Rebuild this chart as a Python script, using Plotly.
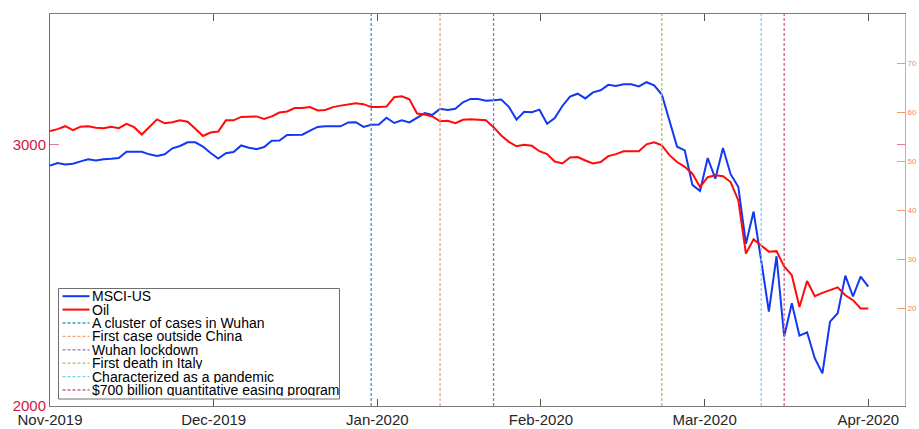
import plotly.graph_objects as go

# ---- data ----
month_labels = ["Nov-2019", "Dec-2019", "Jan-2020", "Feb-2020", "Mar-2020", "Apr-2020"]

msci_us = [2920, 2930, 2924, 2927, 2936, 2944, 2939, 2944, 2946, 2949,
           2973, 2973, 2973, 2963, 2957, 2963, 2986, 2995, 3009, 3009,
           2993, 2968, 2947, 2967, 2972, 2997, 2988, 2983, 2991, 3015,
           3016, 3037, 3038, 3038, 3054, 3068, 3070, 3070, 3070, 3085,
           3086, 3068, 3076, 3077, 3103, 3083, 3093, 3085, 3102, 3121,
           3114, 3137, 3133, 3137, 3162, 3175, 3175, 3168, 3170, 3173,
           3145, 3096, 3126, 3124, 3134, 3080, 3102, 3148, 3184, 3195,
           3177, 3200, 3208, 3229, 3225, 3231, 3231, 3223, 3239, 3227,
           3192, 3087, 2992, 2978, 2846, 2823, 2949, 2870, 2987, 2887,
           2839, 2621, 2744, 2556, 2361, 2573, 2266, 2393, 2269, 2282,
           2183, 2125, 2323, 2355, 2499, 2419, 2495, 2457]

oil = [56.1, 56.5, 57.1, 56.3, 57.0, 57.1, 56.8, 56.7, 57.0, 56.7,
       57.6, 56.9, 55.4, 56.9, 58.5, 57.7, 57.9, 58.3, 58.0, 56.6,
       55.1, 55.8, 56.0, 58.3, 58.3, 59.0, 59.0, 59.1, 58.6, 59.1,
       59.9, 60.1, 60.8, 60.8, 61.0, 60.3, 60.4, 61.0, 61.3, 61.6,
       61.8, 61.6, 61.0, 61.0, 61.1, 63.0, 63.2, 62.6, 59.7, 59.5,
       59.1, 58.1, 58.2, 57.7, 58.4, 58.5, 58.4, 58.3, 56.9, 55.2,
       53.9, 53.0, 53.3, 53.1, 52.0, 51.4, 49.9, 49.5, 50.7, 50.8,
       50.1, 49.5, 49.8, 51.0, 51.4, 52.0, 52.0, 52.0, 53.4, 53.8,
       53.2, 51.2, 49.8, 48.8, 47.4, 44.7, 46.7, 47.1, 46.9, 45.7,
       42.0, 31.1, 34.0, 32.8, 31.5, 31.6, 28.5, 26.7, 20.2, 25.5,
       22.4, 23.1, 23.6, 24.2, 22.6, 21.6, 19.9, 19.9]

event_labels = ["A cluster of cases in Wuhan", "First case outside China", "Wuhan lockdown",
                "First death in Italy", "Characterized as a pandemic",
                "$700 billion quantitative easing program"]
event_x = [42, 51, 58, 80, 93, 96]
event_colors = ["#3A9CC8", "#F5A07A", "#A070AE", "#A3C46E", "#72D3EF", "#CC607C"]

left_ticks = [2000, 3000]
right_ticks = [20, 30, 40, 50, 60, 70]

series_names = ["MSCI-US", "Oil"]
series_colors = ["#1238F2", "#FF0A0A"]

# ---- figure ----
N = len(msci_us)
idx = list(range(N))
tick_pos = [k * (N - 1) / 5 for k in range(6)]

FONT = "Liberation Sans, Arial, Helvetica, sans-serif"
LEFT_C = "#D0173F"
RIGHT_C = "#F5875A"

fig = go.Figure()
fig.add_trace(go.Scatter(x=idx, y=msci_us, mode="lines", name=series_names[0],
                         line=dict(color=series_colors[0], width=2), yaxis="y"))
fig.add_trace(go.Scatter(x=idx, y=oil, mode="lines", name=series_names[1],
                         line=dict(color=series_colors[1], width=2), yaxis="y2"))
# invisible trace to anchor mirrored left ticks on the right side
fig.add_trace(go.Scatter(x=[None], y=[None], yaxis="y3", showlegend=False, hoverinfo="skip"))

shapes = []
for ex, ec in zip(event_x, event_colors):
    shapes.append(dict(type="line", xref="x", yref="paper", x0=ex, x1=ex, y0=0, y1=1,
                       line=dict(color=ec, width=1.3, dash="3px,2px"), layer="above"))

# custom compact legend (pixel geometry -> paper coords)
PL, PR, PT, PB = 50, 905, 14, 406
def fx(px):
    return (px - PL) / (PR - PL)
def fy(py):
    return (PB - py) / (PB - PT)

shapes.append(dict(type="rect", xref="paper", yref="paper",
                   x0=fx(58.5), x1=fx(339.5), y0=fy(399), y1=fy(288.5),
                   line=dict(color="#6E6E6E", width=1), fillcolor="white", layer="above"))

annotations = []
leg_names = series_names + event_labels
leg_colors = series_colors + event_colors
for k, (nm, col) in enumerate(zip(leg_names, leg_colors)):
    yc = 296.2 + 13.4 * k
    dash = "solid" if k < 2 else "3px,2px"
    width = 2 if k < 2 else 1.3
    shapes.append(dict(type="line", xref="paper", yref="paper",
                       x0=fx(62.5), x1=fx(89.5), y0=fy(yc), y1=fy(yc),
                       line=dict(color=col, width=width, dash=dash), layer="above"))
    annotations.append(dict(xref="paper", yref="paper", x=fx(90.5), y=fy(yc),
                            text=nm, showarrow=False, xanchor="left", yanchor="middle",
                            height=12, valign="middle",
                            font=dict(family=FONT, size=14, color="#000000"),
                            borderpad=0))

fig.update_layout(
    width=919, height=429,
    margin=dict(l=PL, r=919 - PR, t=PT, b=429 - PB, autoexpand=False),
    paper_bgcolor="white", plot_bgcolor="white",
    showlegend=False,
    font=dict(family=FONT),
    xaxis=dict(range=[0, 111.8], tickvals=tick_pos, ticktext=month_labels,
               ticks="inside", ticklen=7, tickcolor="#555555", tickwidth=1,
               showline=True, linecolor="#7A7A7A", linewidth=1, mirror="ticks",
               showgrid=False, zeroline=False, automargin=False,
               tickfont=dict(family=FONT, size=15, color="#262626")),
    yaxis=dict(range=[2000, 3500], tickvals=left_ticks,
               ticks="inside", ticklen=9, tickcolor="#DE7C92", tickwidth=1,
               showline=True, linecolor="#D6405F", linewidth=1,
               showgrid=False, zeroline=False, automargin=False,
               tickfont=dict(family=FONT, size=15, color=LEFT_C)),
    yaxis2=dict(range=[0, 80], tickvals=right_ticks, overlaying="y", side="right",
                ticks="inside", ticklen=8, tickcolor="#FF956A", tickwidth=1,
                showline=True, linecolor="#FF9B72", linewidth=1,
                showgrid=False, zeroline=False, automargin=False,
                tickfont=dict(family=FONT, size=8, color=RIGHT_C)),
    yaxis3=dict(range=[2000, 3500], tickvals=left_ticks, overlaying="y", side="right",
                ticks="inside", ticklen=8, tickcolor="#DE7C92", tickwidth=1,
                showticklabels=False, showline=False, showgrid=False, zeroline=False,
                automargin=False),
    shapes=shapes,
    annotations=annotations,
)

fig.write_html("out.html", config={"displayModeBar": False},
               post_script="document.body.style.margin='0';")
